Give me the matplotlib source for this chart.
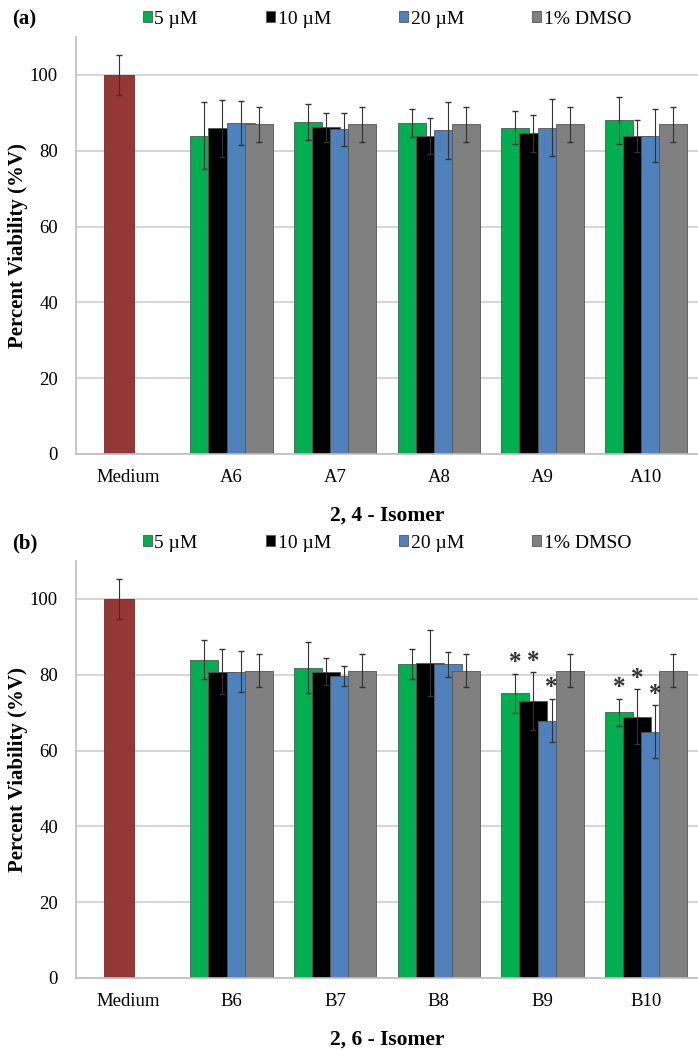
import numpy as np
import matplotlib.pyplot as plt

plt.rcParams['font.family'] = ['Liberation Serif', 'DejaVu Serif']

# data
series = ['5 \u00b5M', '10 \u00b5M', '20 \u00b5M', '1% DMSO']
colors = ['#00b050', '#000000', '#4f81bd', '#808080']

cats_a = ['Medium', 'A6', 'A7', 'A8', 'A9', 'A10']
cats_b = ['Medium', 'B6', 'B7', 'B8', 'B9', 'B10']

medium_val = 100
medium_err = 5.2

# panel (a) 2,4-isomer, rows = compounds A6..A10, cols = 5, 10, 20 uM, DMSO
vals_a = [[84.0, 85.9, 87.2, 87.0],
          [87.6, 86.2, 85.6, 87.0],
          [87.4, 83.9, 85.4, 87.0],
          [86.1, 84.6, 86.1, 87.0],
          [88.0, 83.9, 84.0, 87.0]]
errs_a = [[8.8, 7.5, 5.8, 4.6],
          [4.8, 3.8, 4.3, 4.6],
          [3.7, 4.8, 7.5, 4.6],
          [4.4, 4.9, 7.5, 4.6],
          [6.2, 4.2, 6.9, 4.6]]

# panel (b) 2,6-isomer, B6..B10
vals_b = [[84.0, 80.8, 80.8, 81.1],
          [81.9, 80.8, 79.7, 81.1],
          [82.8, 83.2, 82.8, 81.1],
          [75.1, 73.0, 67.9, 81.1],
          [70.1, 68.9, 65.0, 81.1]]
errs_b = [[5.2, 6.0, 5.4, 4.4],
          [6.8, 3.6, 2.7, 4.4],
          [4.0, 8.7, 3.3, 4.4],
          [5.1, 7.6, 5.7, 4.4],
          [3.5, 7.3, 7.0, 4.4]]

# significance marks (row, col) in panel b
stars_b = [(3, 0), (3, 1), (3, 2), (4, 0), (4, 1), (4, 2)]


def panel(ax, cats, vals, errs, title, stars=()):
    vals = np.array(vals)
    errs = np.array(errs)
    x = np.arange(1, len(cats))
    step = 0.175
    w = 0.27
    ax.bar(-step / 2, medium_val, width=0.29, color='#953735',
           edgecolor='#6e2a28', linewidth=0.6, zorder=2)
    ax.errorbar(-step / 2, medium_val, yerr=medium_err, fmt='none',
                ecolor='#333333', elinewidth=0.8, capsize=2, zorder=6)
    for j in range(4):
        xs = x + (j - 1.5) * step
        ax.bar(xs, vals[:, j], width=w, color=colors[j], edgecolor='#555555',
               linewidth=0.6, zorder=2 + j * 0.1, label=series[j])
        ax.errorbar(xs, vals[:, j], yerr=errs[:, j], fmt='none',
                    ecolor='#333333', elinewidth=0.8, capsize=2, zorder=6)
    for (r, c) in stars:
        xs = x[r] + (c - 1.5) * step
        ax.text(xs, vals[r, c] + errs[r, c] + 1.2, '*', ha='center',
                va='baseline', fontsize=18, fontweight='bold',
                color='#333333', zorder=7)

    ax.set_xlim(-0.5, len(cats) - 0.5)
    ax.set_ylim(0, 110)
    ax.set_yticks([0, 20, 40, 60, 80, 100])
    ax.set_xticks(range(len(cats)))
    ax.set_xticklabels(cats)
    ax.tick_params(length=0, labelsize=13.5)
    ax.tick_params(axis='x', pad=11)
    ax.tick_params(axis='y', pad=13)
    ax.yaxis.grid(True, color='#d0d0d0', linewidth=1.2)
    ax.set_axisbelow(True)
    for s in ['top', 'right']:
        ax.spines[s].set_visible(False)
    ax.spines['left'].set_color('#bfbfbf')
    ax.spines['bottom'].set_color('#bfbfbf')
    ax.spines['left'].set_linewidth(1.2)
    ax.spines['bottom'].set_linewidth(1.2)
    ax.set_ylabel('Percent Viability (%V)', fontsize=15, fontweight='bold')
    ax.yaxis.set_label_coords(-0.077, 0.5)
    ax.set_xlabel(title, fontsize=15.5, fontweight='bold', labelpad=14)
    ax.legend(loc='center', bbox_to_anchor=(0.5, 1.043), ncol=4,
              frameon=False, fontsize=14, handlelength=0.45, handleheight=0.45,
              handletextpad=0.15, columnspacing=3.5, borderaxespad=0)


fig = plt.figure(figsize=(6.98, 10.5), dpi=100)

# axes placed from pixel positions of the reference
ax_a = fig.add_axes([76 / 698, 1 - 454 / 1050, 622 / 698, 417 / 1050])
ax_b = fig.add_axes([76 / 698, 1 - 978 / 1050, 622 / 698, 417 / 1050])

panel(ax_a, cats_a, vals_a, errs_a, '2, 4 - Isomer')
panel(ax_b, cats_b, vals_b, errs_b, '2, 6 - Isomer', stars_b)

fig.text(12 / 698, 1 - 19 / 1050, '(a)', fontsize=15, fontweight='bold', va='center')
fig.text(12 / 698, 1 - 543 / 1050, '(b)', fontsize=15, fontweight='bold', va='center')

fig.savefig('out.png', dpi=100)
